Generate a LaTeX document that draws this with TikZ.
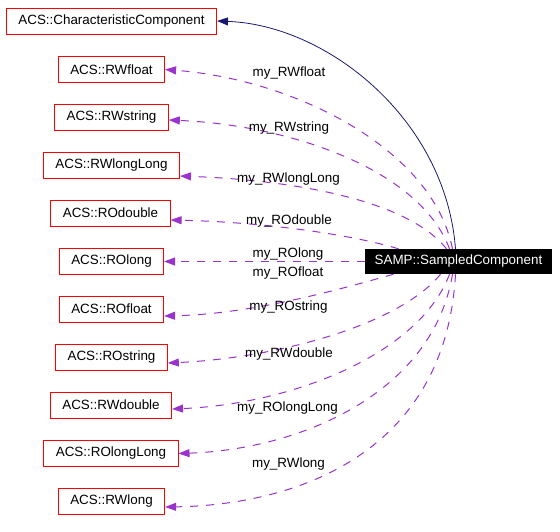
\documentclass[tikz,border=0pt]{standalone}
\usepackage{fontspec}
\setmainfont{Liberation Sans}
\usepackage{xcolor}
\usetikzlibrary{arrows.meta}
\definecolor{edgepurple}{HTML}{9A32CD}
\definecolor{edgenavy}{HTML}{191970}

\begin{document}
\begin{tikzpicture}[x=1pt, y=-1pt, >={Triangle[length=11pt, width=8pt]},
  classbox/.style={draw=red, line width=0.8pt, minimum height=26pt, inner xsep=12pt, font=\fontsize{13.4}{15}\selectfont},
  mainbox/.style={fill=black, text=white, minimum width=187pt, minimum height=25pt, font=\fontsize{13.4}{15}\selectfont},
  usage/.style={->, edgepurple, line width=1pt, dash pattern=on 8pt off 8pt},
  inherit/.style={->, edgenavy, line width=0.8pt},
  edgelabel/.style={font=\fontsize{13.4}{15}\selectfont}]
\useasboundingbox (0,0) rectangle (560,531);
% --- Classes on the left ---
\node[classbox] (charcomp) at (111.5, 21) {ACS::CharacteristicComponent};
\node[classbox] (rwfloat) at (111.5, 69.5) {ACS::RWfloat};
\node[classbox] (rwstring) at (111.5, 117) {ACS::RWstring};
\node[classbox] (rwlonglong) at (111.5, 165) {ACS::RWlongLong};
\node[classbox] (rodouble) at (110.5, 213) {ACS::ROdouble};
\node[classbox] (rolong) at (111.5, 261.5) {ACS::ROlong};
\node[classbox] (rofloat) at (111.5, 309) {ACS::ROfloat};
\node[classbox] (rostring) at (111.5, 357) {ACS::ROstring};
\node[classbox] (rwdouble) at (111, 405) {ACS::RWdouble};
\node[classbox] (rolonglong) at (111, 453.5) {ACS::ROlongLong};
\node[classbox] (rwlong) at (111.5, 501) {ACS::RWlong};
% --- Sampled component ---
\node[mainbox] (sampled) at (458.5, 261.5) {SAMP::SampledComponent};

% --- Inheritance ---
\draw[inherit] ([xshift=-3pt]sampled.north) .. controls +(-10,-130) and +(110,4) .. (charcomp.east);

% --- Members above ---
\draw[usage] ([xshift=-6pt]sampled.north) .. controls +(-20,-100) and +(130,10) .. (rwfloat.east);
\draw[usage] ([xshift=-9pt]sampled.north) .. controls +(-30,-80) and +(120,5) .. ([yshift=-3pt]rwstring.east);
\draw[usage] ([xshift=-12pt]sampled.north) .. controls +(-40,-50) and +(110,4) .. ([yshift=-11pt]rwlonglong.east);
\draw[usage] ([xshift=-60pt]sampled.north) .. controls +(-50,-15) and +(90,2) .. ([yshift=-7pt]rodouble.east);
% --- Straight across ---
\draw[usage] (sampled.west) -- (rolong.east);
% --- Members below ---
\draw[usage] ([xshift=-65pt]sampled.south) .. controls +(-50,14) and +(90,-2) .. ([yshift=-7pt]rofloat.east);
\draw[usage] ([xshift=-18pt]sampled.south) .. controls +(-40,50) and +(110,-5) .. ([yshift=-6pt]rostring.east);
\draw[usage] ([xshift=-9pt]sampled.south) .. controls +(-30,80) and +(120,-5) .. ([yshift=-4pt]rwdouble.east);
\draw[usage] ([xshift=-6pt]sampled.south) .. controls +(-20,120) and +(120,-4) .. (rolonglong.east);
\draw[usage] ([xshift=-3pt]sampled.south) .. controls +(-10,180) and +(130,-2) .. ([yshift=-6pt]rwlong.east);

% --- Edge labels ---
\node[edgelabel] (lrwfloat) at (289, 73) {my\_RWfloat};
\node[edgelabel] (lrwstring) at (289, 128) {my\_RWstring};
\node[edgelabel] (lrwlonglong) at (288.5, 179) {my\_RWlongLong};
\node[edgelabel] (lrodouble) at (289, 221) {my\_ROdouble};
\node[edgelabel] (lrolong) at (288, 254) {my\_ROlong};
\node[edgelabel] (lrofloat) at (288, 273) {my\_ROfloat};
\node[edgelabel] (lrostring) at (288.5, 307) {my\_ROstring};
\node[edgelabel] (lrwdouble) at (289, 354) {my\_RWdouble};
\node[edgelabel] (lrolonglong) at (287.5, 408) {my\_ROlongLong};
\node[edgelabel] (lrwlong) at (288.5, 464) {my\_RWlong};
\end{tikzpicture}
\end{document}
